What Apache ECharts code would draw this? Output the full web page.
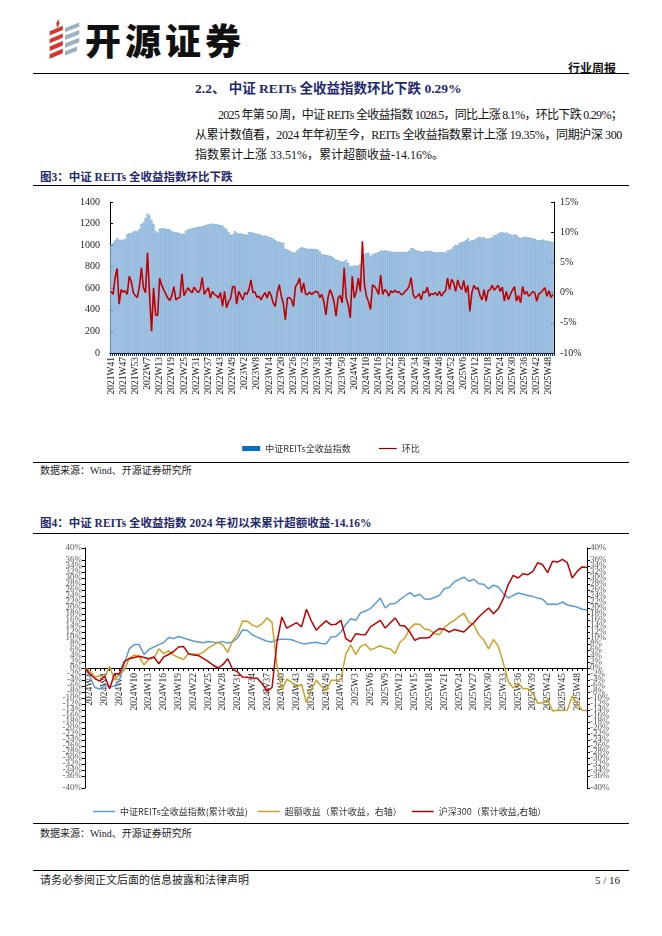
<!DOCTYPE html>
<html><head><meta charset="utf-8">
<script src="https://cdn.jsdelivr.net/npm/echarts@6/dist/echarts.min.js"></script>
<style>
html,body{margin:0;padding:0;background:#fff}
body{width:662px;height:936px;position:relative;overflow:hidden;font-family:"Liberation Serif","Noto Sans CJK SC",serif;color:#111}
.t{position:absolute;white-space:nowrap}
.hr{position:absolute;left:33px;width:596px;height:1.3px;background:#000}
.navy{color:#1F2A6E;font-weight:bold}
.jl{position:absolute;white-space:nowrap}
</style></head><body>
<svg class="t" style="left:47px;top:18px" width="36" height="44" viewBox="0 0 32 40">
  <polygon points="2,12 14,7 14,11 2,16" fill="#D9362B"/>
  <polygon points="2,19 14,14 14,18 2,23" fill="#D9362B"/>
  <polygon points="2,26 14,21 14,25 2,30" fill="#D9362B"/>
  <polygon points="2,33 14,28 14,32 2,37" fill="#D9362B"/>
  <polygon points="8,5 10,1 11,5 9,9" fill="#D9362B"/>
  <polygon points="16,9 29,4 29,8 16,13" fill="#9FB2C2"/>
  <polygon points="16,16 29,11 29,15 16,20" fill="#9FB2C2"/>
  <polygon points="16,23 29,18 29,22 16,27" fill="#9FB2C2"/>
  <polygon points="16,30 27,26 27,30 16,34" fill="#9FB2C2"/>
</svg>
<div class="t" style="left:85px;top:20px;font:900 36px/38px 'Noto Sans CJK SC';letter-spacing:4px;color:#111">开源证券</div>
<div class="t" style="right:46px;top:61px;font:bold 12px/14px 'Noto Sans CJK SC';color:#111">行业周报</div>
<div class="hr" style="top:73px"></div>
<div class="t navy" style="left:195px;top:81px;font-size:13.5px;line-height:16px">2.2、 中证 REITs 全收益指数环比下跌 0.29%</div>
<div class="jl" data-w="404" style="left:218px;top:108px;font-size:12px;line-height:15px">2025 年第 50 周，中证 REITs 全收益指数 1028.5，同比上涨 8.1%，环比下跌 0.29%；</div>
<div class="jl" data-w="427" style="left:195px;top:128px;font-size:12px;line-height:15px">从累计数值看，2024 年年初至今，REITs 全收益指数累计上涨 19.35%，同期沪深 300</div>
<div class="t" style="left:195px;top:148px;font-size:12px;line-height:15px">指数累计上涨 33.51%，累计超额收益-14.16%。</div>
<div class="t navy" style="left:40px;top:170px;font-size:11.5px;line-height:14px">图3：中证 REITs 全收益指数环比下跌</div>
<div class="hr" style="top:185px"></div>
<div id="c1" style="position:absolute;left:0;top:190px;width:662px;height:268px"></div>
<div class="hr" style="top:462px"></div>
<div class="t" style="left:40px;top:465px;font-size:10px;line-height:12px;color:#222">数据来源：Wind、开源证券研究所</div>
<div class="t navy" style="left:40px;top:516px;font-size:11.5px;line-height:14px">图4：中证 REITs 全收益指数 2024 年初以来累计超额收益-14.16%</div>
<div class="hr" style="top:533px"></div>
<div id="c2" style="position:absolute;left:0;top:538px;width:662px;height:280px"></div>
<div class="hr" style="top:823px"></div>
<div class="t" style="left:40px;top:828px;font-size:10px;line-height:12px;color:#222">数据来源：Wind、开源证券研究所</div>
<div class="hr" style="top:870px"></div>
<div class="t" style="left:40px;top:874px;font-size:11px;line-height:13px;color:#222">请务必参阅正文后面的信息披露和法律声明</div>
<div class="t" style="right:42px;top:874px;font-size:11px;line-height:13px;color:#222">5 / 16</div>
<script>
// fit justified paragraph lines to their column width
document.querySelectorAll('.jl').forEach(function(el){
  const target = +el.getAttribute('data-w');
  const n = el.textContent.length;
  const w = el.getBoundingClientRect().width;
  el.style.letterSpacing = ((target - w) / n) + 'px';
});

// ---- categories (week labels) ----
const weekRanges1 = [[2021,41,53],[2022,2,53],[2023,1,52],[2024,1,52],[2025,1,50]];
const weekRanges2 = [[2023,52,52],[2024,1,52],[2025,1,50]];
function buildWeeks(r){const out=[];r.forEach(function(x){for(let w=x[1];w<=x[2];w++)out.push(x[0]+'W'+w);});return out;}
const weeks1 = buildWeeks(weekRanges1);
const weeks2 = buildWeeks(weekRanges2);

// ---- chart 1: REITs total return index (bars) ----
const reitsIndex = [
1000,1020,1045,1065,1050,1050,1050,1055,1100,1110,
1110,1125,1130,1130,1150,1195,1210,1250,1290,1275,
1230,1195,1130,1115,1150,1155,1155,1150,1150,1145,
1130,1120,1120,1115,1110,1100,1105,1135,1145,1150,
1155,1160,1165,1170,1170,1175,1180,1185,1195,1190,
1200,1195,1195,1190,1185,1180,1160,1145,1120,1095,
1100,1130,1115,1105,1110,1100,1100,1095,1120,1120,
1115,1110,1105,1100,1095,1085,1090,1085,1075,1070,
1060,1045,1035,1030,1025,1020,965,960,950,940,
930,935,955,970,980,975,970,965,965,965,
965,962,958,940,915,912,910,905,900,895,
880,865,858,850,846,850,
862,836,806,802,812,808,810,828,875,917,
929,929,901,915,922,929,935,950,946,953,
948,944,940,937,934,938,936,935,938,934,
937,948,971,970,957,951,945,939,937,943,
945,945,943,938,933,932,934,936,933,932,
951,953,965,987,1003,999,1021,1026,1033,1047,
1063,1034,1046,1047,1059,1069,1078,1068,1074,1060,
1059,1065,1071,1090,1093,1109,1116,1123,1111,1117,
1104,1102,1090,1100,1095,1076,1063,1071,1078,1074,
1071,1067,1063,1059,1045,1046,1045,1052,1043,1040,
1037,1031,1028.5];
// week-on-week change, %
const wowChange = [
0.2,-0.3,2.4,4.0,-1.9,0.5,0.1,0.3,-0.3,2.7,
1.8,0.0,-0.5,-0.8,1.0,4.1,0.8,0.0,6.6,-0.3,
-6.4,0.8,-3.7,-3.8,2.4,1.2,0.5,-0.2,-0.9,-1.3,
-0.5,1.0,-1.2,-0.9,-0.8,3.1,-0.5,0.2,0.8,0.3,
0.0,0.9,0.4,0.0,0.5,2.5,-0.3,0.3,0.8,-0.9,
0.2,-0.3,-0.5,-0.9,0.0,-2.3,0.2,-2.5,-1.5,-0.9,
1.0,1.0,-1.9,0.2,-0.5,-1.2,0.0,-0.3,0.5,2.1,
0.0,0.1,-0.8,-0.6,-1.2,-0.5,0.0,-0.9,0.2,-0.5,
-1.7,-2.3,0.0,1.3,-0.6,-1.8,-4.5,-0.9,-0.8,-1.2,
-2.3,1.0,1.5,2.4,0.0,1.6,-0.3,-0.3,0.1,-0.3,
0.0,0.2,0.1,-0.8,-0.3,-1.5,-3.7,-0.9,0.5,-0.3,
-1.5,-3.9,-0.9,-0.5,-1.7,4.1,-0.9,-2.0,-4.2,2.7,
-0.9,0.2,2.4,0.2,8.5,1.3,-0.6,-1.5,-2.8,1.3,
1.0,0.5,-0.3,2.9,-0.3,0.5,0.2,-0.6,0.3,0.0,
0.4,0.0,0.2,-0.3,-0.3,0.2,0.5,1.0,2.5,-0.3,
-0.9,-0.6,-0.2,-1.2,0.2,0.0,0.9,-0.6,-0.2,-0.3,
0.0,-0.5,0.2,-0.6,0.0,0.3,2.4,0.5,2.2,1.6,
0.2,2.1,1.0,0.5,2.0,0.0,1.2,-3.1,0.0,1.2,
0.6,0.8,-0.5,-1.2,0.5,-1.4,0.3,0.5,1.2,0.4,
0.8,1.2,0.2,0.9,-1.4,0.2,-1.2,-0.3,0.4,1.0,
-1.4,-0.5,-1.7,1.0,-0.3,0.2,-0.6,-0.3,0.2,0.0,
-1.4,-0.2,0.0,0.4,0.8,-0.6,0.3,-0.8,-0.29];

// ---- chart 2: cumulative returns since start of 2024, % ----
const reitsCum = [
0,-3,-6.5,-7,-5.8,-6.3,-6,-4,1.5,6.4,
7.8,7.8,4.5,6.2,7,7.8,8.5,10.2,9.8,10.5,
10,9.5,9,8.7,8.4,8.8,8.6,8.5,8.8,8.3,
8.7,10,12.7,12.5,11,10.3,9.6,8.9,8.7,9.4,
9.6,9.6,9.4,8.8,8.2,8.1,8.4,8.6,8.2,8.1,
10.3,10.5,12,14.5,16.4,15.9,18.4,19,19.8,21.5,
23.3,20,21.4,21.5,22.8,24,25.1,23.9,24.6,23,
22.9,23.5,24.2,26.4,26.8,28.7,29.5,30.3,28.9,29.6,
28.1,27.9,26.4,27.6,27,24.8,23.3,24.2,25,24.6,
24.2,23.8,23.3,22.9,21.2,21.3,21.2,22,21,20.7,
20.3,19.6,19.35];
const excessCum = [
0,-1,-3,-2.6,-3.1,0.6,-4.1,-2.1,-0.7,3.3,
4.3,3.9,1,3.1,3.3,6.4,4.8,5.7,4.3,3.5,
2.8,4.7,4.7,4.5,5.2,6.6,7.6,8.5,7.7,5.2,
9.1,11.3,15.7,15.6,14.3,13.7,14.8,16.7,15.2,0.9,
-7.4,-3.7,-4.8,-6.3,-5.5,-11.5,-7.2,-4,-6.1,-7.6,
-4.1,-4.1,-3.9,4.7,7.7,4.5,7.2,7.9,6.1,6.7,
7.4,6.7,6.4,4.8,8.6,10,13.1,14.7,14.6,13,
12.7,11.5,11.1,13.5,14.8,15.9,17.1,18.3,15.2,14.5,
11.1,9.4,6.4,9.5,7.2,1.7,-4.5,-6.7,-5,-6.8,
-6.9,-8.4,-11.8,-11.5,-10.6,-14.3,-14.1,-14.2,-14.1,-9.3,
-11.9,-14.1,-14.16];
const hs300Cum = [
0,-2,-3.5,-4.4,-2.7,-6.9,-1.9,-1.9,2.2,3.1,
3.5,3.9,3.5,3.1,3.7,1.4,3.7,4.5,5.5,7,
7.2,4.8,4.3,4.2,3.2,2.2,1,0,1.1,3.1,
-0.4,-1.3,-3,-3.1,-3.3,-3.4,-5.2,-7.8,-6.5,8.5,
17,13.3,14.2,15.1,13.7,19.6,15.6,12.6,14.3,15.7,
14.4,14.6,15.9,9.8,8.7,11.4,11.2,11.1,13.7,14.8,
15.9,13.3,15,16.7,14.2,14,12,9.2,10,10,
10.2,12,13.1,12.9,12,12.8,12.4,12,13.7,15.1,
17,18.5,20,18.1,19.8,23.1,27.8,30.9,30,31.4,
31.1,32.2,35.1,34.4,31.8,35.6,35.3,36.2,35.1,30,
32.2,33.7,33.51];

const serif = 'Liberation Serif';
const cjk = 'Noto Sans CJK SC';
const axisBlack = {show:true, lineStyle:{color:'#000', width:1}};

const c1 = echarts.init(document.getElementById('c1'), null, {renderer:'canvas'});
c1.setOption({
  animation:false,
  grid:{left:110, right:108, top:12, bottom:105},
  legend:{top:249, left:'center', itemGap:28, itemWidth:18, itemHeight:5,
    textStyle:{fontSize:9, fontFamily:cjk, color:'#333'},
    data:[{name:'中证REITs全收益指数', icon:'rect', itemStyle:{color:'#0070C0', borderWidth:0}},
          {name:'环比', icon:'path://M0,0H30V2H0Z', itemStyle:{color:'#8B0000'}}]},
  xAxis:{type:'category', data:weeks1, boundaryGap:true,
    axisLine:axisBlack,
    axisTick:{show:true, interval:0, length:3, lineStyle:{color:'#0b2a55'}},
    axisLabel:{interval:5, rotate:90, fontSize:9.5, fontFamily:serif, color:'#222', margin:4}},
  yAxis:[
    {type:'value', min:0, max:1400, interval:200, axisLine:axisBlack,
      axisTick:{show:true, inside:true, length:3, lineStyle:{color:'#000'}},
      splitLine:{show:false}, axisLabel:{fontSize:10, fontFamily:serif, color:'#222', margin:10,
        formatter:function(v){return String(v);}}},
    {type:'value', min:-10, max:15, interval:5, position:'right', axisLine:axisBlack,
      axisTick:{show:true, inside:true, length:3, lineStyle:{color:'#000'}},
      splitLine:{show:false}, axisLabel:{fontSize:10, fontFamily:serif, color:'#222', formatter:'{value}%', margin:6}}
  ],
  series:[
    {name:'中证REITs全收益指数', type:'bar', data:reitsIndex, barCategoryGap:'10%',
      itemStyle:{color:'#B2D3EF', borderColor:'#2667A8', borderWidth:0.3}},
    {name:'环比', type:'line', yAxisIndex:1, data:wowChange, showSymbol:false, symbol:'none',
      lineStyle:{color:'#C00000', width:1.6}, itemStyle:{color:'#8B0000'}}
  ]
});

const pctAxis = function(pos){
  return {type:'value', min:-40, max:40, interval:2, position:pos, axisLine:axisBlack,
    axisTick:{show:true, length:3, lineStyle:{color:'#000'}},
    splitLine:{show:false},
    axisLabel:{fontSize:9, fontFamily:serif, color:'#555', formatter:'{value}%', margin:3,
      hideOverlap:false, showMinLabel:true, showMaxLabel:true}};
};
const labelInterval = function(i){return i===0 || (i-1)%3===0;};
const c2 = echarts.init(document.getElementById('c2'), null, {renderer:'canvas'});
c2.setOption({
  animation:false,
  grid:[{left:85, right:75, top:10, bottom:30},
        {left:85, right:75, top:10, bottom:150}],
  legend:{top:264, left:88, itemGap:10, itemWidth:22, itemHeight:2,
    textStyle:{fontSize:9, fontFamily:cjk, color:'#333'},
    data:[{name:'中证REITs全收益指数(累计收益)', icon:'path://M0,0H30V2H0Z'},
          {name:'超额收益（累计收益，右轴）', icon:'path://M0,0H30V2H0Z'},
          {name:'沪深300（累计收益,右轴）', icon:'path://M0,0H30V2H0Z'}]},
  xAxis:[
    {type:'category', data:weeks2, boundaryGap:false, gridIndex:0,
      axisLine:{show:true, onZero:true, lineStyle:{color:'#000'}},
      axisTick:{show:true, interval:0, length:3, lineStyle:{color:'#000'}},
      axisLabel:{show:false}},
    {type:'category', data:weeks2, boundaryGap:false, gridIndex:1, position:'bottom',
      axisLine:{show:false}, axisTick:{show:false},
      axisLabel:{rotate:90, fontSize:9.5, fontFamily:serif, color:'#333', margin:5, interval:labelInterval}}
  ],
  yAxis:[pctAxis('left'), pctAxis('right'),
    {type:'value', gridIndex:1, min:0, max:1, show:false}],
  series:[
    {name:'中证REITs全收益指数(累计收益)', type:'line', data:reitsCum, showSymbol:false, symbol:'none',
      lineStyle:{color:'#5B9BD5', width:1.5}, itemStyle:{color:'#5B9BD5'}},
    {name:'超额收益（累计收益，右轴）', type:'line', yAxisIndex:1, data:excessCum, showSymbol:false, symbol:'none',
      lineStyle:{color:'#C9A227', width:1.5}, itemStyle:{color:'#C9A227'}},
    {name:'沪深300（累计收益,右轴）', type:'line', yAxisIndex:1, data:hs300Cum, showSymbol:false, symbol:'none',
      lineStyle:{color:'#C00000', width:1.5}, itemStyle:{color:'#A00000'}}
  ]
});
</script>
</body></html>
